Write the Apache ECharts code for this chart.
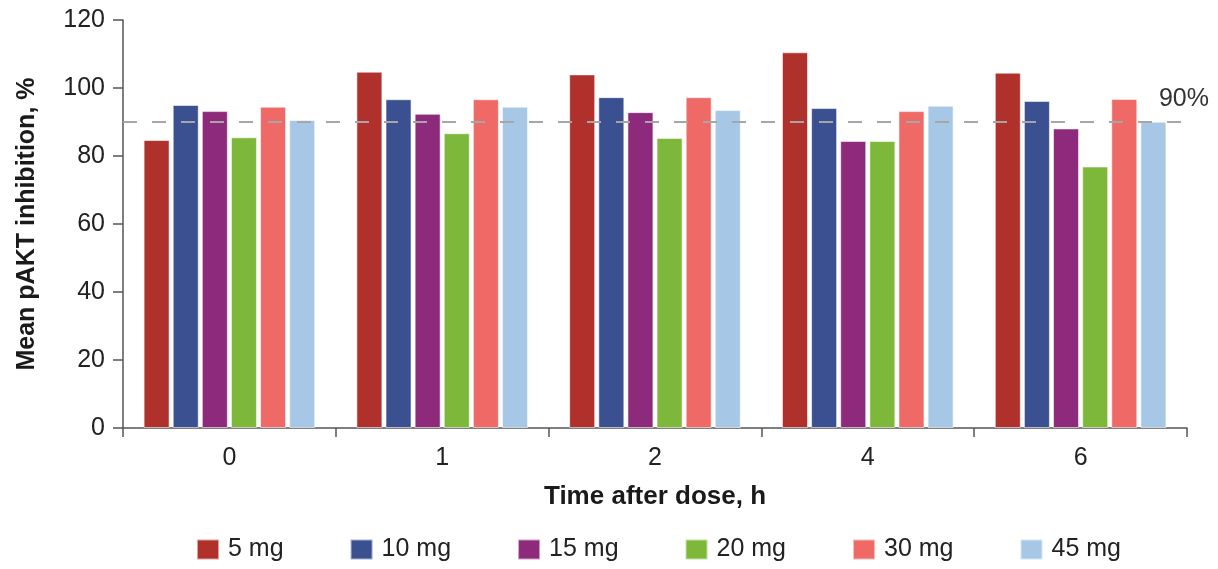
<!DOCTYPE html>
<html><head><meta charset="utf-8">
<script src="https://cdn.jsdelivr.net/npm/echarts@6/dist/echarts.min.js"></script>
<style>html,body{margin:0;padding:0;background:#fff}#c{width:1218px;height:569px}</style>
</head><body><div id="c"></div>
<script>
const categories = ['0', '1', '2', '4', '6'];
const seriesNames = ['5 mg', '10 mg', '15 mg', '20 mg', '30 mg', '45 mg'];
const v5mg  = [84.7, 104.8, 104.0, 110.5, 104.5];
const v10mg = [95.0, 96.7, 97.3, 94.1, 96.2];
const v15mg = [93.2, 92.4, 92.9, 84.4, 88.1];
const v20mg = [85.5, 86.7, 85.3, 84.4, 76.9];
const v30mg = [94.5, 96.7, 97.3, 93.2, 96.8];
const v45mg = [90.6, 94.5, 93.5, 94.8, 90.1];
const seriesValues = [v5mg, v10mg, v15mg, v20mg, v30mg, v45mg];
const colors = ['#B0302C', '#3A5091', '#8E2A7B', '#7DB83B', '#EF6A67', '#A6C8E6'];
const threshold = 90;
const yTicks = [0, 20, 40, 60, 80, 100, 120];

const font = '"Liberation Sans", Arial, sans-serif';
const chart = echarts.init(document.getElementById('c'), null, {renderer: 'canvas'});
const series = seriesNames.map((name, i) => ({
  name, type: 'bar', data: seriesValues[i], barWidth: 26, barGap: '12%',
  itemStyle: {color: colors[i], borderColor: 'rgba(255,255,255,0.55)', borderWidth: 1},
  emphasis: {disabled: true}
}));
series[0].markLine = {
  silent: true, symbol: 'none',
  lineStyle: {color: '#A6A6A6', type: [14, 15], width: 2},
  label: {show: true, position: 'insideEndTop', formatter: '90%', color: '#333', fontSize: 25, fontFamily: font, distance: [-22, 10]},
  data: [{yAxis: threshold}]
};
chart.setOption({
  animation: false,
  color: colors,
  grid: {left: 123, right: 31, top: 20, bottom: 141, containLabel: false},
  xAxis: {
    type: 'category', data: categories,
    name: 'Time after dose, h', nameLocation: 'middle', nameGap: 56,
    nameTextStyle: {fontFamily: font, fontSize: 26, fontWeight: 'bold', color: '#1a1a1a'},
    axisLine: {lineStyle: {color: '#555', width: 1.5}},
    axisTick: {show: true, length: 9, lineStyle: {color: '#555', width: 1.5}},
    axisLabel: {fontFamily: font, fontSize: 25, color: '#222', margin: 18}
  },
  yAxis: {
    type: 'value', min: yTicks[0], max: yTicks[yTicks.length - 1], interval: 20,
    name: 'Mean pAKT inhibition, %', nameLocation: 'middle', nameGap: 83,
    nameTextStyle: {fontFamily: font, fontSize: 25, fontWeight: 'bold', color: '#1a1a1a'},
    axisLine: {show: true, lineStyle: {color: '#555', width: 1.5}},
    axisTick: {show: true, length: 10, lineStyle: {color: '#555', width: 1.5}},
    axisLabel: {fontFamily: font, fontSize: 25, color: '#222', margin: 18},
    splitLine: {show: false}
  },
  legend: {
    data: seriesNames, left: 196, top: 537, padding: 0, itemWidth: 22, itemHeight: 20, itemGap: 66,
    icon: 'rect', textStyle: {fontFamily: font, fontSize: 25, color: '#222', padding: [0, 0, 0, 4]}
  },
  series
});
</script></body></html>
